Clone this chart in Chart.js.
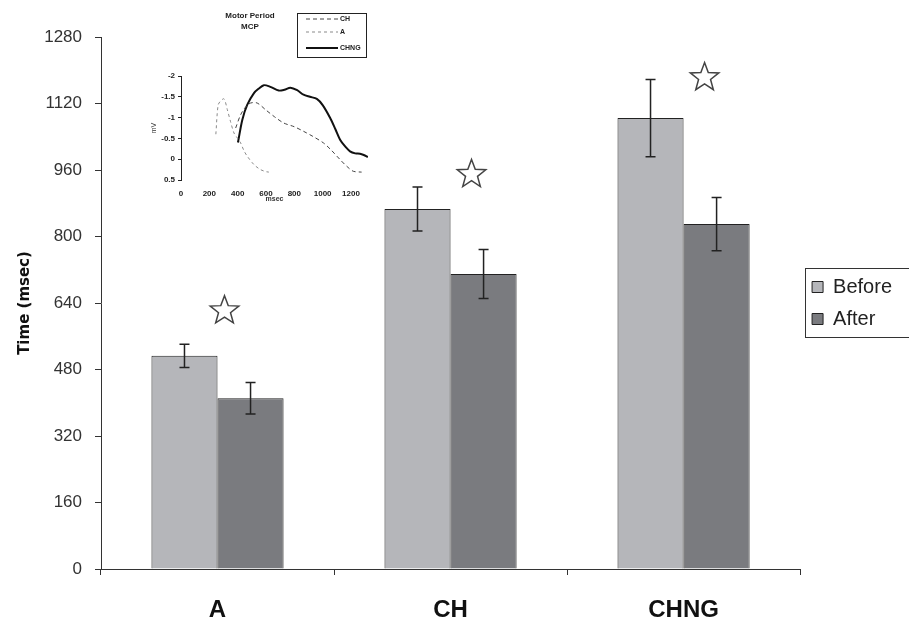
<!DOCTYPE html>
<html>
<head>
<meta charset="utf-8">
<script src="https://cdn.jsdelivr.net/npm/chart.js@4.4.1/dist/chart.umd.min.js"></script>
<style>
body { margin: 0; background: #fff; }
#wrap { position: relative; width: 909px; height: 620px; }
#inset { position: absolute; left: 150px; top: 5px; width: 235px; height: 205px; }
</style>
</head>
<body>
<div id="wrap">
  <canvas id="myChart"></canvas>
  <div id="inset"><canvas id="insetChart"></canvas></div>
</div>
<script>
// reaction time before / after, by group
var groups = ['A', 'CH', 'CHNG'];
var before = [513, 866, 1085];
var after = [411, 710, 830];
var beforeErr = [28, 53, 93];
var afterErr = [38, 59, 64];
var starValues = [625, 953, 1186];
var yTicks = [0, 160, 320, 480, 640, 800, 960, 1120, 1280];

// inset: motor period MCP waveforms (ms, mV)
var chMs = [386, 421, 455, 491, 538, 600, 660, 725, 800, 865, 930, 1006, 1060, 1123, 1170, 1216, 1275];
var chMv = [-0.75, -1.07, -1.25, -1.35, -1.35, -1.18, -1.02, -0.87, -0.78, -0.67, -0.55, -0.39, -0.22, 0.01, 0.17, 0.29, 0.31];
var aMs = [246, 262, 280, 304, 327, 350, 374, 400, 421, 445, 468, 515, 561, 600, 620];
var aMv = [-0.60, -1.30, -1.40, -1.45, -1.19, -0.90, -0.63, -0.50, -0.39, -0.20, -0.07, 0.13, 0.25, 0.30, 0.31];
var chngMs = [402, 433, 468, 515, 550, 585, 630, 690, 730, 772, 820, 865, 910, 959, 1000, 1053, 1090, 1123, 1160, 1193, 1230, 1263, 1290, 1319];
var chngMv = [-0.40, -0.95, -1.31, -1.59, -1.70, -1.78, -1.74, -1.65, -1.67, -1.72, -1.66, -1.55, -1.50, -1.45, -1.30, -0.99, -0.72, -0.47, -0.30, -0.19, -0.14, -0.13, -0.10, -0.05];

function pairs(xs, ys) {
    return xs.map(function (x, i) { return {x: x, y: ys[i]}; });
}

var errors = [beforeErr, afterErr];

var errorBars = {
    id: 'errorBars',
    afterDatasetsDraw: function (chart) {
        var ctx = chart.ctx;
        var y = chart.scales.y;
        ctx.save();
        ctx.strokeStyle = '#222';
        ctx.lineWidth = 1.5;
        chart.data.datasets.forEach(function (ds, d) {
            var meta = chart.getDatasetMeta(d);
            meta.data.forEach(function (bar, i) {
                var v = ds.data[i], e = errors[d][i];
                var top = y.getPixelForValue(v + e);
                var bot = y.getPixelForValue(v - e);
                ctx.beginPath();
                ctx.moveTo(bar.x, top); ctx.lineTo(bar.x, bot);
                ctx.moveTo(bar.x - 5, top); ctx.lineTo(bar.x + 5, top);
                ctx.moveTo(bar.x - 5, bot); ctx.lineTo(bar.x + 5, bot);
                ctx.stroke();
            });
        });
        ctx.restore();
    }
};

var stars = {
    id: 'stars',
    afterDatasetsDraw: function (chart) {
        var ctx = chart.ctx;
        var dx = [7, 21, 21];
        ctx.save();
        ctx.strokeStyle = '#444';
        ctx.fillStyle = '#fff';
        ctx.lineWidth = 1.5;
        ctx.lineJoin = 'miter';
        starValues.forEach(function (v, i) {
            var cx = chart.scales.x.getPixelForValue(i) + dx[i];
            var cy = chart.scales.y.getPixelForValue(v);
            ctx.beginPath();
            for (var k = 0; k < 10; k++) {
                var r = k % 2 === 0 ? 15 : 6.3;
                var a = -Math.PI / 2 + k * Math.PI / 5;
                var px = cx + r * Math.cos(a), py = cy + 1.5 + r * Math.sin(a);
                if (k === 0) ctx.moveTo(px, py); else ctx.lineTo(px, py);
            }
            ctx.closePath();
            ctx.fill();
            ctx.stroke();
        });
        ctx.restore();
    }
};

var legendBox = {
    id: 'legendBox',
    afterDraw: function (chart) {
        var boxes = chart.legend.legendHitBoxes;
        if (!boxes || !boxes.length) return;
        var ctx = chart.ctx;
        var last = boxes[boxes.length - 1];
        ctx.save();
        ctx.strokeStyle = '#333';
        ctx.lineWidth = 1;
        ctx.strokeRect(Math.round(boxes[0].left) - 6.5, Math.round(boxes[0].top) - 8.5, 200, last.top + last.height - boxes[0].top + 17);
        ctx.restore();
    }
};

var ctx = document.getElementById('myChart').getContext('2d');
var myChart = new Chart(ctx, {
    type: 'bar',
    data: {
        labels: groups,
        datasets: [{
            label: 'Before',
            data: before,
            backgroundColor: '#b5b6ba',
            borderColor: '#222',
            borderWidth: 1
        }, {
            label: 'After',
            data: after,
            backgroundColor: '#7a7b7f',
            borderColor: '#222',
            borderWidth: 1
        }]
    },
    options: {
        responsive: true,
        maintainAspectRatio: false,
        animation: false,
        categoryPercentage: 0.567,
        barPercentage: 1,
        layout: { padding: { top: 37, right: 7, left: 0, bottom: 0 } },
        plugins: {
            legend: {
                position: 'right',
                fullSize: false,
                labels: {
                    font: { family: 'Liberation Sans', size: 20 },
                    color: '#222',
                    boxWidth: 11,
                    boxHeight: 11,
                    padding: 12
                }
            },
            tooltip: { enabled: false }
        },
        scales: {
            y: {
                min: 0,
                max: 1280,
                afterBuildTicks: function (scale) {
                    scale.ticks = yTicks.map(function (v) { return {value: v}; });
                },
                afterFit: function (scale) { scale.width = 101; },
                border: { color: '#333', width: 1 },
                grid: { drawOnChartArea: false, tickLength: 6, color: '#333' },
                ticks: {
                    font: { family: 'Liberation Sans', size: 17 },
                    color: '#333',
                    padding: 13,
                    callback: function (v) { return String(v); }
                },
                title: {
                    display: true,
                    text: 'Time (msec)',
                    font: { family: 'DejaVu Sans', size: 15, weight: 'bold' },
                    color: '#111',
                    padding: { top: 16, bottom: 0 }
                }
            },
            x: {
                afterFit: function (scale) { scale.height = 51; },
                border: { color: '#333', width: 1 },
                grid: { drawOnChartArea: false, tickLength: 6, color: '#333' },
                ticks: {
                    font: { family: 'Liberation Sans', size: 24, weight: 'bold' },
                    color: '#111',
                    padding: 21
                }
            }
        }
    },
    plugins: [errorBars, stars, legendBox]
});

// inset chart
var insetDeco = {
    id: 'insetDeco',
    afterDraw: function (chart) {
        var c = chart.ctx;
        c.save();
        c.fillStyle = '#222';
        c.font = 'bold 8px "Liberation Sans"';
        c.textAlign = 'center';
        c.textBaseline = 'middle';
        c.fillText('Motor Period', 100, 11);
        c.fillText('MCP', 100, 22);
        // legend box
        c.strokeStyle = '#222';
        c.lineWidth = 1;
        c.strokeRect(147.5, 8.5, 69, 44);
        var rows = [14, 27, 43];
        c.textAlign = 'left';
        c.font = 'bold 7px "Liberation Sans"';
        chart.data.datasets.forEach(function (ds, r) {
            c.beginPath();
            c.setLineDash(ds.borderDash || []);
            c.strokeStyle = ds.borderColor;
            c.lineWidth = ds.borderWidth;
            c.moveTo(156, rows[r]);
            c.lineTo(188, rows[r]);
            c.stroke();
            c.setLineDash([]);
            c.fillText(ds.label, 190, rows[r]);
        });
        c.restore();
    }
};

var ictx = document.getElementById('insetChart').getContext('2d');
var insetChart = new Chart(ictx, {
    type: 'line',
    data: {
        datasets: [{
            label: 'CH',
            data: pairs(chMs, chMv),
            borderColor: '#444',
            borderDash: [4, 3],
            borderWidth: 1,
            pointRadius: 0,
            tension: 0.3
        }, {
            label: 'A',
            data: pairs(aMs, aMv),
            borderColor: '#8a8a8a',
            borderDash: [3, 3],
            borderWidth: 1,
            pointRadius: 0,
            tension: 0.3
        }, {
            label: 'CHNG',
            data: pairs(chngMs, chngMv),
            borderColor: '#111',
            borderWidth: 2,
            pointRadius: 0,
            tension: 0.3
        }]
    },
    options: {
        responsive: true,
        maintainAspectRatio: false,
        animation: false,
        layout: { padding: { top: 71, right: 17, left: 0, bottom: 0 } },
        plugins: { legend: { display: false }, tooltip: { enabled: false } },
        scales: {
            x: {
                type: 'linear',
                min: 0,
                max: 1320,
                afterFit: function (scale) { scale.height = 30; },
                border: { display: false },
                grid: { display: false },
                ticks: {
                    stepSize: 200,
                    includeBounds: false,
                    autoSkip: false,
                    maxRotation: 0,
                    font: { family: 'Liberation Sans', size: 8, weight: 'bold' },
                    color: '#222',
                    padding: 1,
                    callback: function (v) { return v % 200 === 0 ? String(v) : ''; }
                },
                title: {
                    display: true,
                    text: 'msec',
                    font: { family: 'Liberation Sans', size: 7, weight: 'bold' },
                    color: '#333',
                    padding: { top: 0, bottom: 7 }
                }
            },
            y: {
                reverse: true,
                min: -2,
                max: 0.5,
                afterFit: function (scale) { scale.width = 31; },
                border: { color: '#222', width: 1 },
                grid: { drawOnChartArea: false, tickLength: 3, color: '#222' },
                ticks: {
                    stepSize: 0.5,
                    font: { family: 'Liberation Sans', size: 8, weight: 'bold' },
                    color: '#222',
                    padding: 3,
                    callback: function (v) { return String(v); }
                },
                title: {
                    display: true,
                    text: 'mV',
                    font: { family: 'Liberation Sans', size: 7 },
                    color: '#333',
                    padding: 0
                }
            }
        }
    },
    plugins: [insetDeco]
});
</script>
</body>
</html>
